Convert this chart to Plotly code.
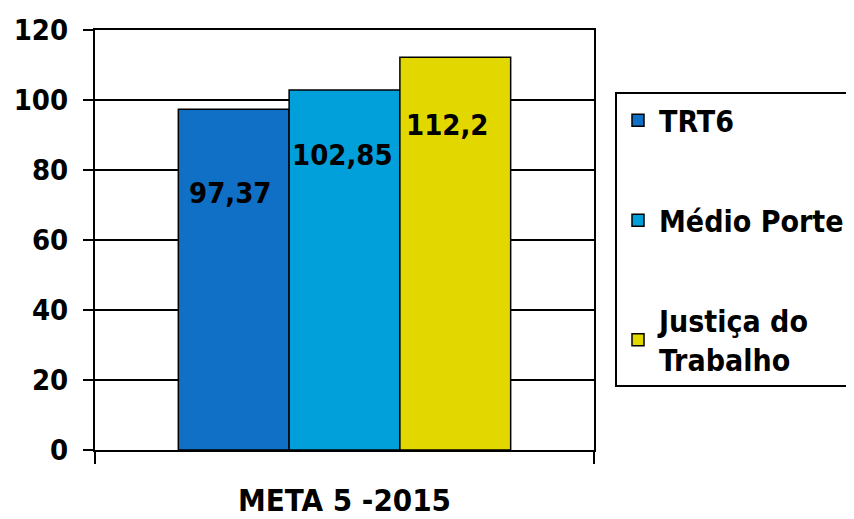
import plotly.graph_objects as go

categories = ["META 5 -2015"]
series_names = ["TRT6", "Médio Porte", "Justiça do<br>Trabalho"]
series_values = [97.37, 102.85, 112.2]
series_colors = ["#1070C6", "#02A0DA", "#E2D800"]
y_ticks = [0, 20, 40, 60, 80, 100, 120]

FONT = "DejaVu Sans Condensed, DejaVu Sans"

fig = go.Figure()
for i, (name, val, color) in enumerate(zip(series_names, series_values, series_colors)):
    fig.add_trace(go.Bar(
        x=categories,
        y=[val],
        name=name,
        legendgroup=f"g{i}",
        marker=dict(color=color, line=dict(color="black", width=1.5)),
    ))

# value labels, placed inside the bars like the original
label_xshift = [-114, -2, 103]
label_yshift = [-84, -65, -68]
for val, dx, dy in zip(series_values, label_xshift, label_yshift):
    fig.add_annotation(
        x=categories[0], y=val,
        text=f"{val:g}".replace(".", ","),
        showarrow=False,
        xshift=dx, yshift=dy,
        font=dict(family=FONT, size=29, color="black", weight="bold"),
    )

# page body has an 8px margin, so margins are shifted to compensate
fig.update_layout(
    width=854, height=519,
    margin=dict(l=87, r=267, t=22, b=77),
    paper_bgcolor="white",
    plot_bgcolor="white",
    font=dict(family=FONT, size=29, color="black", weight="bold"),
    barmode="group",
    bargap=0.334,
    bargroupgap=0,
    showlegend=True,
    legend=dict(
        x=1.04, y=0.852, xanchor="left", yanchor="top",
        bordercolor="black", borderwidth=2,
        font=dict(family=FONT, size=30, color="black", weight="bold"),
        tracegroupgap=58,
        itemwidth=32,
    ),
)
fig.update_xaxes(
    automargin=False,
    showline=True, linecolor="black", linewidth=2, mirror=True,
    ticks="outside", tickson="boundaries", ticklen=12, tickwidth=2, tickcolor="black",
    ticklabelstandoff=22,
    tickfont=dict(family=FONT, size=31, weight="bold"),
)
fig.update_yaxes(
    automargin=False,
    range=[0, 120], tickvals=y_ticks,
    showgrid=True, gridcolor="black", gridwidth=1.5,
    showline=True, linecolor="black", linewidth=2, mirror=True,
    ticks="outside", ticklen=10, tickwidth=2, tickcolor="black",
    ticklabelstandoff=9,
    tickfont=dict(family=FONT, size=29, weight="bold"),
    zeroline=False,
)

fig.write_html("out.html")
